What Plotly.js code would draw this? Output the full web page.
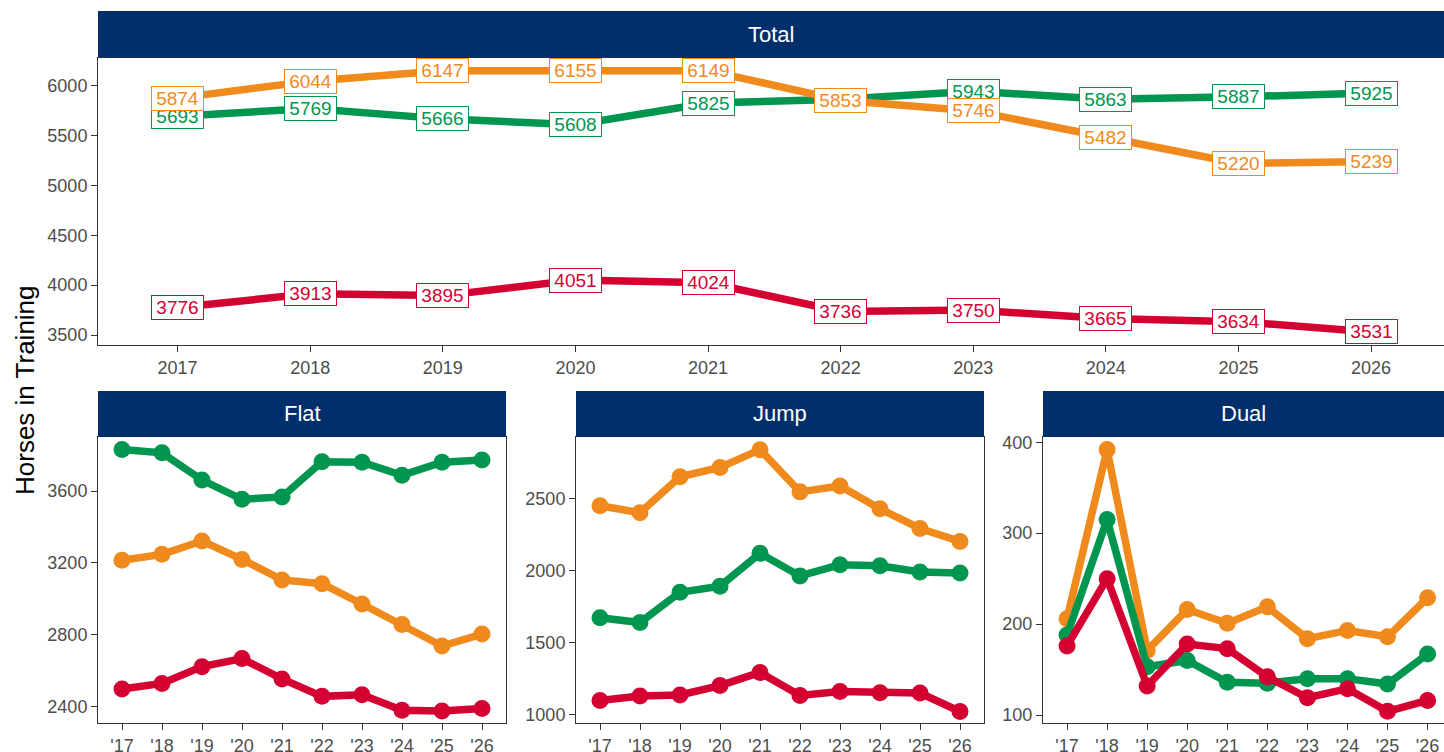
<!DOCTYPE html>
<html>
<head>
<meta charset="utf-8">
<script src="https://cdn.plot.ly/plotly-3.0.1.min.js"></script>
<style>html,body{margin:0;padding:0;background:#fff}#chart{width:1444px;height:752px}</style>
</head>
<body>
<div id="chart"></div>
<script>
// ---- data ----
const years = [2017, 2018, 2019, 2020, 2021, 2022, 2023, 2024, 2025, 2026];
const yearLabels = ['2017', '2018', '2019', '2020', '2021', '2022', '2023', '2024', '2025', '2026'];
const shortLabels = ["'17", "'18", "'19", "'20", "'21", "'22", "'23", "'24", "'25", "'26"];
const panelNames = ['Total', 'Flat', 'Jump', 'Dual'];

const totalOrange = [5874, 6044, 6147, 6155, 6149, 5853, 5746, 5482, 5220, 5239];
const totalGreen  = [5693, 5769, 5666, 5608, 5825, 5863, 5943, 5863, 5887, 5925];
const totalRed    = [3776, 3913, 3895, 4051, 4024, 3736, 3750, 3665, 3634, 3531];
const greenHiddenLabelYears = [2022];

const flatOrange = [3215, 3248, 3322, 3220, 3106, 3085, 2972, 2858, 2739, 2805];
const flatGreen  = [3830, 3812, 3661, 3554, 3567, 3763, 3760, 3687, 3760, 3772];
const flatRed    = [2500, 2531, 2624, 2669, 2556, 2459, 2468, 2382, 2378, 2391];

const jumpOrange = [2453, 2404, 2654, 2719, 2842, 2549, 2590, 2431, 2295, 2205];
const jumpGreen  = [1675, 1642, 1852, 1894, 2122, 1965, 2043, 2036, 1993, 1986];
const jumpRed    = [1100, 1132, 1139, 1204, 1295, 1135, 1163, 1154, 1152, 1024];

const dualOrange = [206, 392, 171, 216, 201, 219, 184, 193, 186, 229];
const dualGreen  = [188, 315, 153, 160, 136, 135, 140, 140, 134, 167];
const dualRed    = [176, 250, 132, 178, 173, 142, 119, 129, 104, 116];

const totalTicks = [3500, 4000, 4500, 5000, 5500, 6000];
const flatTicks = [2400, 2800, 3200, 3600];
const jumpTicks = [1000, 1500, 2000, 2500];
const dualTicks = [100, 200, 300, 400];

// ---- style ----
const ORANGE = '#F08A1C', GREEN = '#00964F', RED = '#D50032', NAVY = '#002F6C';
const FONT = 'Liberation Sans, Arial, Helvetica, sans-serif';
const W = 1444, H = 752;
const px = v => v / W, py = v => 1 - v / H;

const traces = [];
function addTrace(xa, ya, ys, color, withMarkers) {
  traces.push({
    x: years, y: ys, xaxis: xa, yaxis: ya, type: 'scatter',
    mode: withMarkers ? 'lines+markers' : 'lines',
    line: {color: color, width: 7.5},
    marker: {color: color, size: 17},
    hoverinfo: 'skip', showlegend: false
  });
}
addTrace('x', 'y', totalRed, RED, false);
addTrace('x', 'y', totalGreen, GREEN, false);
addTrace('x', 'y', totalOrange, ORANGE, false);
[['x2','y2',flatOrange,flatGreen,flatRed],['x3','y3',jumpOrange,jumpGreen,jumpRed],['x4','y4',dualOrange,dualGreen,dualRed]].forEach(p => {
  addTrace(p[0], p[1], p[2], ORANGE, true);
  addTrace(p[0], p[1], p[3], GREEN, true);
  addTrace(p[0], p[1], p[4], RED, true);
});

const annotations = [];
function addLabels(ys, color, hidden) {
  ys.forEach((v, i) => {
    if (hidden && hidden.indexOf(years[i]) >= 0) return;
    annotations.push({
      x: years[i], y: v, xref: 'x', yref: 'y', text: String(v), showarrow: false,
      xanchor: 'center', yanchor: 'middle', width: 49, height: 21, align: 'center', valign: 'middle',
      font: {family: FONT, size: 19, color: color},
      bgcolor: '#ffffff', bordercolor: color, borderwidth: 1, borderpad: 1
    });
  });
}
addLabels(totalRed, RED);
addLabels(totalGreen, GREEN, greenHiddenLabelYears);
addLabels(totalOrange, ORANGE);

// panel geometry (pixels)
const panels = [
  {x0: 98, x1: 1444, hy0: 11, hy1: 57.5, py1: 345},
  {x0: 98, x1: 506, hy0: 391, hy1: 437, py1: 723},
  {x0: 576, x1: 984, hy0: 391, hy1: 437, py1: 723},
  {x0: 1043, x1: 1444, hy0: 391, hy1: 437, py1: 723}
];
const shapes = [];
panels.forEach((p, i) => {
  shapes.push({type: 'rect', xref: 'paper', yref: 'paper', x0: px(p.x0), x1: px(p.x1), y0: py(p.hy1), y1: py(p.hy0),
    fillcolor: NAVY, line: {width: 0}, layer: 'above'});
  annotations.push({xref: 'paper', yref: 'paper', x: px((p.x0 + p.x1) / 2), y: py((p.hy0 + p.hy1) / 2),
    text: panelNames[i], showarrow: false, xanchor: 'center', yanchor: 'middle',
    font: {family: FONT, size: 22, color: '#ffffff'}});
});
annotations.push({xref: 'paper', yref: 'paper', x: px(25), y: py(390), text: 'Horses in Training',
  textangle: -90, showarrow: false, xanchor: 'center', yanchor: 'middle',
  font: {family: FONT, size: 26, color: '#000000'}});

function xax(p, range, ticktext) {
  return {domain: [px(p.x0), px(p.x1)], range: range, tickvals: years, ticktext: ticktext,
    showgrid: false, zeroline: false, showline: true, linecolor: '#333333', linewidth: 1, mirror: true,
    ticks: 'outside', ticklen: 6, tickcolor: '#333333', tickwidth: 1,
    tickfont: {family: FONT, size: 18, color: '#4D4D4D'}, fixedrange: true};
}
function yax(p, range, tv) {
  return {domain: [py(p.py1), py(p.hy1)], range: range, tickvals: tv,
    showgrid: false, zeroline: false, showline: true, linecolor: '#333333', linewidth: 1, mirror: true,
    ticks: 'outside', ticklen: 6, tickcolor: '#333333', tickwidth: 1,
    tickfont: {family: FONT, size: 18, color: '#4D4D4D'}, fixedrange: true};
}

const layout = {
  width: W, height: H, margin: {l: 0, r: 0, t: 0, b: 0},
  paper_bgcolor: '#ffffff', plot_bgcolor: '#ffffff',
  font: {family: FONT},
  xaxis: xax(panels[0], [2016.4, 2026.55], yearLabels),
  yaxis: yax(panels[0], [3400, 6281], totalTicks),
  xaxis2: Object.assign(xax(panels[1], [2016.4, 2026.6], shortLabels), {anchor: 'y2'}),
  yaxis2: Object.assign(yax(panels[1], [2311, 3900], flatTicks), {anchor: 'x2'}),
  xaxis3: Object.assign(xax(panels[2], [2016.4, 2026.6], shortLabels), {anchor: 'y3'}),
  yaxis3: Object.assign(yax(panels[2], [944, 2930], jumpTicks), {anchor: 'x3'}),
  xaxis4: Object.assign(xax(panels[3], [2016.4, 2026.41], shortLabels), {anchor: 'y4'}),
  yaxis4: Object.assign(yax(panels[3], [91.2, 405.8], dualTicks), {anchor: 'x4'}),
  shapes: shapes, annotations: annotations
};
layout.xaxis.anchor = 'y';
layout.yaxis.anchor = 'x';

Plotly.newPlot('chart', traces, layout, {displayModeBar: false, staticPlot: true});
</script>
</body>
</html>
